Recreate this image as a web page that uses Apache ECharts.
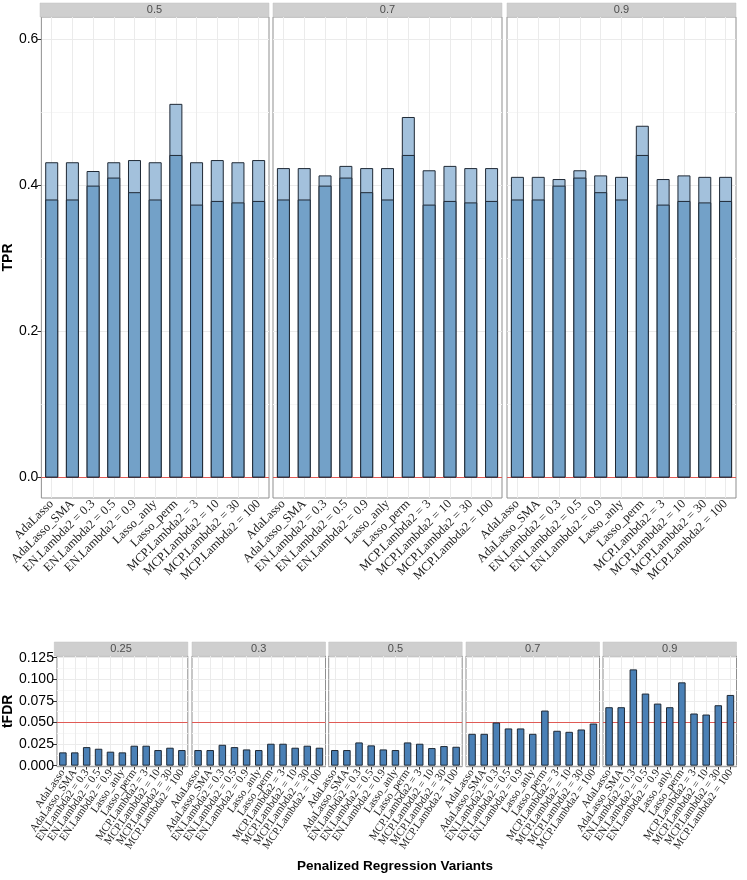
<!DOCTYPE html>
<html>
<head>
<meta charset="utf-8">
<script src="https://cdn.jsdelivr.net/npm/echarts@6/dist/echarts.min.js"></script>
<style>html,body{margin:0;padding:0;background:#fff;}#c{width:747px;height:880px;}</style>
</head>
<body>
<div id="c"></div>
<script>
// ---------- DATA ----------
var categories = ['AdaLasso','AdaLasso_SMA','EN.Lambda2 = 0.3','EN.Lambda2 = 0.5','EN.Lambda2 = 0.9','Lasso_anly','Lasso_perm','MCP.Lambda2 = 3','MCP.Lambda2 = 10','MCP.Lambda2 = 30','MCP.Lambda2 = 100'];

var tprFacets = ['0.5','0.7','0.9'];
var tprUpper05 = [0.432,0.432,0.420,0.432,0.435,0.432,0.512,0.432,0.435,0.432,0.435];
var tprLower05 = [0.381,0.381,0.400,0.411,0.391,0.381,0.442,0.374,0.379,0.377,0.379];
var tprUpper07 = [0.424,0.424,0.414,0.427,0.424,0.424,0.494,0.421,0.427,0.424,0.424];
var tprLower07 = [0.381,0.381,0.400,0.411,0.391,0.381,0.442,0.374,0.379,0.377,0.379];
var tprUpper09 = [0.412,0.412,0.409,0.421,0.414,0.412,0.482,0.409,0.414,0.412,0.412];
var tprLower09 = [0.381,0.381,0.400,0.411,0.391,0.381,0.442,0.374,0.379,0.377,0.379];
var tprTicks = [0, 0.2, 0.4, 0.6];
var tprRef = 0;

var fdrFacets = ['0.25','0.3','0.5','0.7','0.9'];
var fdr025 = [0.0154,0.0154,0.0215,0.0196,0.0162,0.0154,0.0231,0.0231,0.0181,0.0208,0.0181];
var fdr03  = [0.0181,0.0181,0.0242,0.0215,0.0188,0.0181,0.0254,0.0254,0.0208,0.0231,0.0208];
var fdr05  = [0.0181,0.0181,0.0269,0.0235,0.0188,0.0181,0.0269,0.0254,0.0204,0.0227,0.0219];
var fdr07  = [0.0369,0.0369,0.0500,0.0431,0.0431,0.0369,0.0638,0.0404,0.0392,0.0419,0.0488];
var fdr09  = [0.0677,0.0677,0.1115,0.0835,0.0719,0.0677,0.0965,0.0604,0.0592,0.0700,0.0819];
var fdrTicks = [0, 0.025, 0.05, 0.075, 0.1, 0.125];
var fdrRef = 0.05;

var tprUpper = [tprUpper05, tprUpper07, tprUpper09];
var tprLower = [tprLower05, tprLower07, tprLower09];
var fdrValues = [fdr025, fdr03, fdr05, fdr07, fdr09];

// ---------- LAYOUT / STYLE ----------
var topLefts = [40, 273, 507], topW = 229, topTop = 17, topH = 481;
var botLefts = [54.3, 192, 328.7, 466, 603], botW = 133.5, botTop = 656, botH = 110.7;
var stripH = 14;
var gridColor = '#ebebeb', minorColor = '#f6f6f6', borderCol = '#8f8f8f';
var barBorder = '#1f2935';

var grids = [], xAxes = [], yAxes = [], series = [], graphics = [];

function vGridMark(extra) {
  return {
    silent: true, symbol: 'none', z: 1, animation: false,
    label: {show: false},
    lineStyle: {color: gridColor, type: 'solid', width: 1},
    emphasis: {disabled: true},
    data: categories.map(function (c) { return {xAxis: c}; }).concat(extra)
  };
}
function refMark(v) {
  return [{yAxis: v, lineStyle: {color: '#e05a55', width: 1.2, type: 'solid'}}];
}

function addPanel(idx, left, top, w, h, opts) {
  grids.push({left: left, top: top, width: w, height: h, show: true,
    borderColor: borderCol, borderWidth: 1, backgroundColor: '#fff', containLabel: false});
  xAxes.push({
    type: 'category', gridIndex: idx, data: categories,
    axisLine: {show: false},
    axisTick: {show: true, alignWithLabel: true, length: 4, lineStyle: {color: '#333'}},
    axisLabel: {interval: 0, rotate: opts.rotate, fontFamily: 'Liberation Serif',
      fontSize: opts.xFont, color: '#1a1a1a', margin: 4},
    splitLine: {show: false}
  });
  yAxes.push({
    type: 'value', gridIndex: idx, min: opts.min, max: opts.max,
    minInterval: opts.step, maxInterval: opts.step,
    name: idx === opts.firstIdx ? opts.name : '',
    nameLocation: 'middle', nameGap: opts.nameGap,
    nameTextStyle: {fontFamily: 'Liberation Sans', fontWeight: 'bold', fontSize: 14, color: '#000'},
    axisLine: {show: false},
    axisTick: {show: idx === opts.firstIdx, length: 4, lineStyle: {color: '#333'}, customValues: opts.ticks},
    axisLabel: {show: idx === opts.firstIdx, customValues: opts.ticks,
      fontFamily: 'Liberation Sans', fontSize: 14, color: '#000', margin: 3,
      formatter: function (v) { return v.toFixed(opts.dec); }},
    splitLine: {show: true, lineStyle: {color: gridColor, width: 1}},
    minorTick: {show: false, splitNumber: 2},
    minorSplitLine: {show: true, lineStyle: {color: minorColor, width: 1}}
  });
  graphics.push({type: 'rect', shape: {x: left, y: top - stripH, width: w, height: stripH},
    style: {fill: '#cfcfcf', stroke: '#c0c0c0', lineWidth: 0.5}, silent: true});
  graphics.push({type: 'text', x: left + w / 2, y: top - stripH / 2,
    style: {text: opts.facet, fill: '#4d4d4d', font: '11px "Liberation Sans"', textAlign: 'center', textVerticalAlign: 'middle'}, silent: true});
}

// top panels
for (var i = 0; i < 3; i++) {
  addPanel(i, topLefts[i], topTop, topW, topH, {
    rotate: 45, xFont: 12.5, min: -0.028, max: 0.631, step: 0.2, ticks: tprTicks, dec: 1,
    name: 'TPR', nameGap: 24, firstIdx: 0, facet: tprFacets[i]
  });
  series.push({
    type: 'bar', xAxisIndex: i, yAxisIndex: i, data: tprUpper[i], barWidth: 13, barGap: '-100%',
    itemStyle: {color: '#a3c1dc', borderColor: barBorder, borderWidth: 1}, z: 2,
    markLine: vGridMark(refMark(tprRef)), animation: false
  });
  series.push({
    type: 'bar', xAxisIndex: i, yAxisIndex: i, data: tprLower[i], barWidth: 13, barGap: '-100%',
    itemStyle: {color: '#73a1c8', borderColor: barBorder, borderWidth: 1}, z: 3, animation: false
  });
}
// bottom panels
for (var j = 0; j < 5; j++) {
  var k = 3 + j;
  addPanel(k, botLefts[j], botTop, botW, botH, {
    rotate: 55, xFont: 11, min: -0.0012, max: 0.127, step: 0.025, ticks: fdrTicks, dec: 3,
    name: 'tFDR', nameGap: 36, firstIdx: 3, facet: fdrFacets[j]
  });
  series.push({
    type: 'bar', xAxisIndex: k, yAxisIndex: k, data: fdrValues[j], barWidth: 7.5,
    itemStyle: {color: '#4a80b6', borderColor: barBorder, borderWidth: 1}, z: 2,
    markLine: vGridMark(refMark(fdrRef)), animation: false
  });
}

graphics.push({type: 'text', x: 395, y: 866,
  style: {text: 'Penalized Regression Variants', fill: '#000', font: 'bold 13.5px "Liberation Sans"', textAlign: 'center', textVerticalAlign: 'middle'}, silent: true});

var chart = echarts.init(document.getElementById('c'), null, {renderer: 'canvas'});
chart.setOption({
  animation: false,
  backgroundColor: '#fff',
  grid: grids, xAxis: xAxes, yAxis: yAxes, series: series,
  graphic: graphics
});
</script>
</body>
</html>
